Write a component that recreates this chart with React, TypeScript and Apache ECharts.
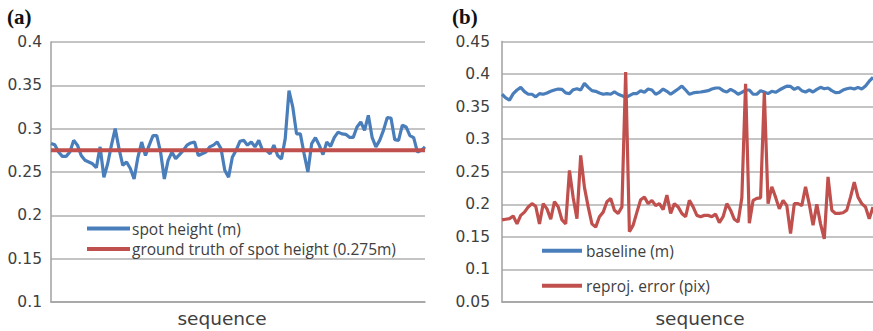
import React, { useEffect, useRef } from "react";
import * as echarts from "echarts";

const SEQUENCE: number[] = Array.from({ length: 100 }, (_, i) => i + 1);

const SPOT_HEIGHT: number[] = [
  0.283, 0.2815, 0.273, 0.268, 0.268, 0.273, 0.2865, 0.281, 0.269, 0.2635,
  0.2615, 0.2595, 0.255, 0.279, 0.244, 0.2595, 0.281, 0.3, 0.277, 0.2577,
  0.2615, 0.254, 0.242, 0.267, 0.2846, 0.269, 0.281, 0.292, 0.292, 0.273,
  0.242, 0.2635, 0.273, 0.2654, 0.27, 0.275, 0.281, 0.2835, 0.2846, 0.269,
  0.271, 0.273, 0.279, 0.281, 0.2846, 0.277, 0.252, 0.244, 0.267, 0.275,
  0.2854, 0.2865, 0.281, 0.2846, 0.279, 0.2865, 0.275, 0.275, 0.271, 0.281,
  0.269, 0.265, 0.2885, 0.344, 0.325, 0.294, 0.294, 0.271, 0.25, 0.2827,
  0.2896, 0.281, 0.27, 0.2846, 0.2796, 0.29, 0.296, 0.294, 0.2935, 0.29,
  0.29, 0.302, 0.3077, 0.298, 0.3154, 0.29, 0.279, 0.2865, 0.298, 0.3127,
  0.3123, 0.2873, 0.2865, 0.304, 0.302, 0.292, 0.2896, 0.273, 0.275, 0.279,
];

const GROUND_TRUTH = 0.275;

const BASELINE: number[] = [
  0.369, 0.3633, 0.36, 0.37, 0.3755, 0.3796, 0.373, 0.369, 0.369, 0.365,
  0.37, 0.369, 0.371, 0.3735, 0.3755, 0.377, 0.3765, 0.371, 0.37, 0.376,
  0.3775, 0.3755, 0.3857, 0.3796, 0.3745, 0.3735, 0.371, 0.369, 0.37, 0.369,
  0.3725, 0.369, 0.3668, 0.364, 0.367, 0.37, 0.37, 0.3745, 0.372, 0.377,
  0.3755, 0.369, 0.372, 0.377, 0.3735, 0.369, 0.373, 0.377, 0.3816, 0.3755,
  0.369, 0.371, 0.372, 0.3725, 0.3735, 0.3745, 0.377, 0.3786, 0.3786, 0.3745,
  0.3725, 0.3765, 0.3735, 0.369, 0.372, 0.3755, 0.3755, 0.369, 0.369, 0.3745,
  0.3725, 0.37, 0.3735, 0.372, 0.3755, 0.3786, 0.3816, 0.381, 0.3765, 0.3796,
  0.3745, 0.3725, 0.3755, 0.3725, 0.3765, 0.3796, 0.3775, 0.3786, 0.3745, 0.3715,
  0.372, 0.3755, 0.3775, 0.3786, 0.377, 0.3796, 0.377, 0.3816, 0.389, 0.395,
];

const REPROJ_ERROR: number[] = [
  0.176, 0.177, 0.178, 0.182, 0.17, 0.183, 0.188, 0.196, 0.201, 0.197,
  0.17, 0.201, 0.193, 0.177, 0.204, 0.196, 0.176, 0.17, 0.252, 0.21,
  0.178, 0.275, 0.226, 0.196, 0.17, 0.165, 0.181, 0.188, 0.204, 0.209,
  0.191, 0.186, 0.196, 0.403, 0.158, 0.168, 0.188, 0.207, 0.211, 0.201,
  0.206, 0.198, 0.201, 0.192, 0.214, 0.186, 0.201, 0.196, 0.186, 0.181,
  0.206, 0.196, 0.183, 0.181, 0.183, 0.183, 0.181, 0.185, 0.172, 0.181,
  0.201, 0.191, 0.177, 0.173, 0.21, 0.385, 0.171, 0.206, 0.209, 0.21,
  0.372, 0.201, 0.227, 0.211, 0.193, 0.206, 0.198, 0.155, 0.201, 0.201,
  0.198, 0.227, 0.2, 0.168, 0.2, 0.17, 0.147, 0.242, 0.191, 0.186,
  0.186, 0.187, 0.191, 0.211, 0.234, 0.211, 0.201, 0.196, 0.178, 0.196,
];

const LEFT_LEGEND = ["spot height (m)", "ground truth of spot height (0.275m)"];
const RIGHT_LEGEND = ["baseline (m)", "reproj. error (pix)"];
const X_TITLE = "sequence";

const BLUE = "#4a7ebb";
const RED = "#c0504d";
const TEXT = "#404040";
const GRID = "#b0b0b0";
const AXIS = "#a0a0a0";
const SANS = "'Open Sans', sans-serif";
const WIDE = "'DejaVu Sans', sans-serif";

const fmt = (v: number) => String(parseFloat(v.toFixed(2)));

export default function App() {
  const ref = useRef<HTMLDivElement>(null);
  useEffect(() => {
    document.body.style.margin = "0";
    if (!ref.current) return;
    const chart = echarts.init(ref.current, null, { renderer: "svg" });
    const xAxisBase = {
      type: "category" as const,
      data: SEQUENCE,
      boundaryGap: false,
      axisLabel: { show: false },
      axisTick: { show: false },
      axisLine: { show: true, lineStyle: { color: AXIS, width: 1.5 } },
      splitLine: { show: false },
    };
    const yAxisBase = {
      type: "value" as const,
      interval: 0.05,
      axisLine: { show: true, lineStyle: { color: AXIS, width: 1.5 } },
      axisTick: { show: false },
      splitLine: { show: true, lineStyle: { color: GRID, width: 1.5 } },
    };
    chart.setOption({
      animation: false,
      grid: [
        { left: 51, top: 42, width: 374, height: 260 },
        { left: 502, top: 41.5, width: 371, height: 260.5 },
      ],
      xAxis: [
        { ...xAxisBase, gridIndex: 0 },
        { ...xAxisBase, gridIndex: 1 },
      ],
      yAxis: [
        {
          ...yAxisBase,
          gridIndex: 0,
          min: 0.1,
          max: 0.4,
          axisLabel: { formatter: fmt, color: TEXT, fontSize: 15.5, fontFamily: WIDE, margin: 9 },
        },
        {
          ...yAxisBase,
          gridIndex: 1,
          min: 0.05,
          max: 0.45,
          axisLabel: { formatter: fmt, color: TEXT, fontSize: 15.5, fontFamily: WIDE, margin: 12 },
        },
      ],
      legend: [
        {
          data: LEFT_LEGEND,
          orient: "vertical",
          left: 87,
          top: 220.5,
          padding: 0,
          icon: "rect",
          itemWidth: 43,
          itemHeight: 4,
          itemGap: 4.5,
          textStyle: { color: TEXT, fontSize: 15.5, fontFamily: SANS, lineHeight: 16, padding: [0, 0, 0, -3] },
        },
        {
          data: RIGHT_LEGEND,
          orient: "vertical",
          left: 542,
          top: 242.7,
          padding: 0,
          icon: "rect",
          itemWidth: 40,
          itemHeight: 4,
          itemGap: 19,
          textStyle: { color: TEXT, fontSize: 15.5, fontFamily: SANS, lineHeight: 16, padding: [0, 0, 0, -1] },
        },
      ],
      graphic: [
        { type: "text", left: 7, top: 6, style: { text: "(a)", font: "bold 21px 'Liberation Serif', serif", fill: "#111" } },
        { type: "text", left: 452, top: 6, style: { text: "(b)", font: "bold 21px 'Liberation Serif', serif", fill: "#111" } },
        {
          type: "text",
          x: 222,
          y: 318,
          style: { text: X_TITLE, font: `18.5px ${WIDE}`, fill: TEXT, align: "center", verticalAlign: "middle" },
        },
        {
          type: "text",
          x: 700,
          y: 318,
          style: { text: X_TITLE, font: `18.5px ${WIDE}`, fill: TEXT, align: "center", verticalAlign: "middle" },
        },
      ],
      series: [
        {
          name: LEFT_LEGEND[0],
          type: "line",
          xAxisIndex: 0,
          yAxisIndex: 0,
          data: SPOT_HEIGHT,
          showSymbol: false,
          lineStyle: { color: BLUE, width: 3.2 },
          itemStyle: { color: BLUE },
        },
        {
          name: LEFT_LEGEND[1],
          type: "line",
          xAxisIndex: 0,
          yAxisIndex: 0,
          data: [
            [0, GROUND_TRUTH],
            [SEQUENCE.length - 1, GROUND_TRUTH],
          ],
          showSymbol: false,
          lineStyle: { color: RED, width: 4 },
          itemStyle: { color: RED },
        },
        {
          name: RIGHT_LEGEND[0],
          type: "line",
          xAxisIndex: 1,
          yAxisIndex: 1,
          data: BASELINE,
          showSymbol: false,
          lineStyle: { color: BLUE, width: 3.2 },
          itemStyle: { color: BLUE },
        },
        {
          name: RIGHT_LEGEND[1],
          type: "line",
          xAxisIndex: 1,
          yAxisIndex: 1,
          data: REPROJ_ERROR,
          showSymbol: false,
          lineStyle: { color: RED, width: 3.2 },
          itemStyle: { color: RED },
        },
      ],
    });
    return () => chart.dispose();
  }, []);
  return <div ref={ref} style={{ width: 873, height: 331 }} />;
}
